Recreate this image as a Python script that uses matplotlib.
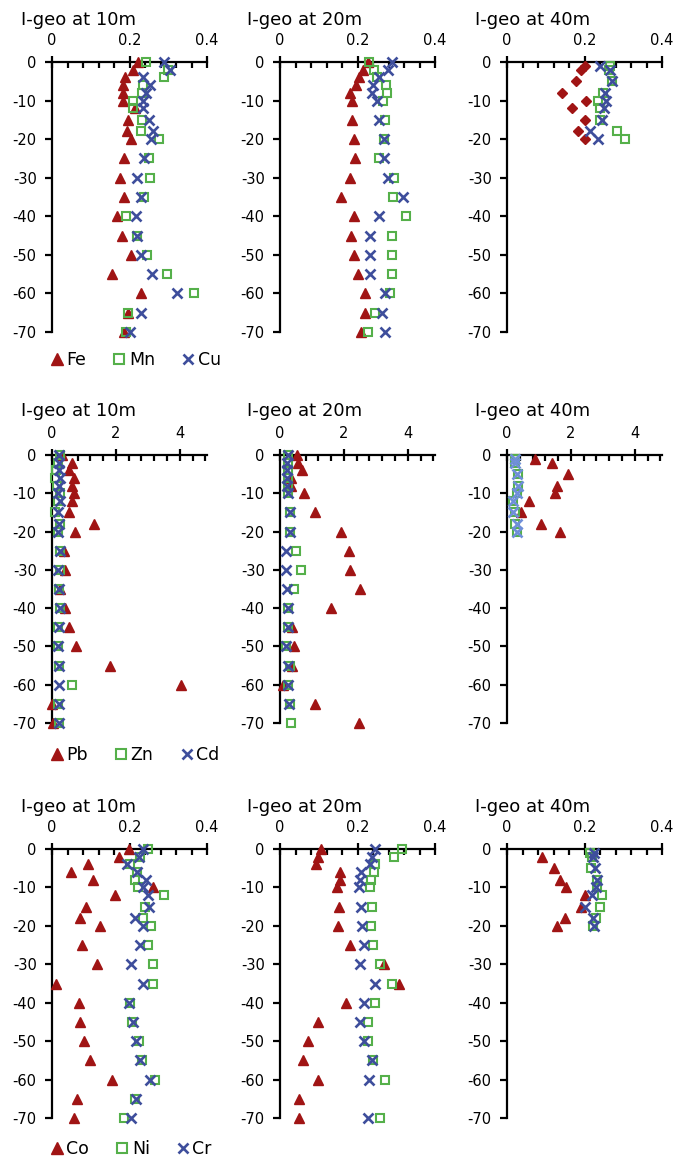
import numpy as np
import matplotlib
matplotlib.use("Agg")
import matplotlib.pyplot as plt
from matplotlib.ticker import MultipleLocator

plt.rcParams['font.family'] = ['DejaVu Sans']

nan = np.nan
# depths (m below surface)
depth_10m = [0, -2, -4, -6, -8, -10, -12, -15, -18, -20, -25, -30, -35, -40, -45, -50, -55, -60, -65, -70]
depth_20m = [0, -2, -4, -6, -8, -10, -15, -20, -25, -30, -35, -40, -45, -50, -55, -60, -65, -70]
depth_40m = [-1, -2, -5, -8, -10, -12, -15, -18, -20]

# Row 1: Fe, Mn, Cu
fe_10 = [0.223, 0.208, 0.188, 0.184, 0.182, 0.184, 0.214, 0.197, 0.193, 0.204, 0.187, 0.175, 0.186, 0.167, 0.18, 0.204, 0.156, 0.23, 0.195, 0.186]
mn_10 = [0.243, 0.30, 0.289, 0.236, 0.232, 0.21, 0.21, 0.232, 0.23, 0.275, 0.25, 0.253, 0.238, 0.191, 0.219, 0.246, 0.296, 0.367, 0.197, 0.191]
cu_10 = [0.288, 0.305, 0.236, 0.253, 0.242, 0.234, 0.234, 0.25, 0.26, 0.255, 0.238, 0.219, 0.23, 0.217, 0.219, 0.23, 0.257, 0.322, 0.229, 0.201]
fe_20 = [0.227, 0.213, 0.203, 0.197, 0.181, 0.186, 0.187, 0.19, 0.194, 0.18, 0.158, 0.19, 0.184, 0.19, 0.2, 0.219, 0.22, 0.21]
mn_20 = [0.229, 0.242, 0.25, 0.274, 0.276, 0.266, 0.272, 0.268, 0.255, 0.295, 0.291, 0.324, 0.289, 0.289, 0.289, 0.285, 0.246, 0.227]
cu_20 = [0.288, 0.278, 0.255, 0.239, 0.238, 0.25, 0.255, 0.268, 0.268, 0.278, 0.317, 0.255, 0.232, 0.232, 0.232, 0.27, 0.262, 0.272]
fe_40 = [0.2, 0.191, 0.178, 0.143, 0.203, 0.167, 0.2, 0.184, 0.2]
mn_40 = [0.266, 0.262, 0.27, 0.249, 0.236, 0.239, 0.24, 0.283, 0.305]
cu_40 = [0.24, 0.266, 0.272, 0.253, 0.256, 0.25, 0.245, 0.214, 0.236]

# Row 2: Pb, Zn, Cd
pb_10 = [0.3, 0.64, 0.52, 0.68, 0.64, 0.7, 0.64, 0.52, 1.32, 0.73, 0.36, 0.4, 0.26, 0.4, 0.52, 0.75, 1.8, 4.05, 0.0, 0.02]
zn_10 = [0.25, 0.2, 0.12, 0.08, 0.15, 0.26, 0.2, 0.08, 0.25, 0.2, 0.24, 0.25, 0.22, 0.25, 0.2, 0.2, 0.22, 0.64, 0.2, 0.23]
cd_10 = [0.22, 0.22, 0.22, 0.25, 0.22, 0.2, 0.25, 0.2, 0.22, 0.18, 0.25, 0.2, 0.22, 0.25, 0.22, 0.18, 0.22, 0.22, 0.22, 0.22]
pb_20 = [0.52, 0.57, 0.68, 0.35, 0.35, 0.75, 1.11, 1.92, 2.15, 2.18, 2.49, 1.61, 0.39, 0.45, 0.36, 0.1, 1.09, 2.47]
zn_20 = [0.25, 0.25, 0.25, 0.25, 0.25, 0.25, 0.3, 0.3, 0.49, 0.65, 0.45, 0.25, 0.25, 0.2, 0.3, 0.25, 0.3, 0.34]
cd_20 = [0.25, 0.22, 0.22, 0.22, 0.22, 0.25, 0.3, 0.3, 0.2, 0.2, 0.22, 0.25, 0.25, 0.2, 0.25, 0.25, 0.28, nan]
pb_40 = [0.89, 1.42, 1.91, 1.56, 1.49, 0.68, 0.45, 1.05, 1.67]
zn_40 = [0.25, 0.25, 0.35, 0.35, 0.3, 0.2, 0.25, 0.25, 0.3]
cd_40 = [0.25, 0.25, 0.3, 0.35, 0.3, 0.2, 0.2, 0.3, 0.3]

# Row 3: Co, Ni, Cr
co_10 = [0.199, 0.173, 0.092, 0.048, 0.106, 0.26, 0.162, 0.087, 0.073, 0.125, 0.078, 0.117, 0.01, 0.069, 0.073, 0.083, 0.098, 0.156, 0.065, 0.056]
ni_10 = [0.249, 0.227, 0.2, 0.219, 0.214, 0.223, 0.288, 0.24, 0.234, 0.255, 0.249, 0.26, 0.26, 0.201, 0.206, 0.225, 0.232, 0.266, 0.214, 0.186]
cr_10 = [0.236, 0.225, 0.193, 0.22, 0.242, 0.234, 0.247, 0.251, 0.213, 0.236, 0.227, 0.204, 0.234, 0.199, 0.21, 0.216, 0.227, 0.253, 0.216, 0.204]
co_20 = [0.106, 0.099, 0.092, 0.156, 0.156, 0.147, 0.153, 0.149, 0.181, 0.268, 0.308, 0.17, 0.099, 0.073, 0.059, 0.099, 0.049, 0.048]
ni_20 = [0.315, 0.295, 0.246, 0.242, 0.235, 0.231, 0.238, 0.235, 0.24, 0.259, 0.289, 0.244, 0.227, 0.227, 0.24, 0.27, nan, 0.259]
cr_20 = [0.246, 0.238, 0.233, 0.209, 0.207, 0.203, 0.209, 0.212, 0.216, 0.206, 0.244, 0.216, 0.206, 0.216, 0.238, 0.229, nan, 0.226]
co_40 = [nan, 0.09, 0.12, 0.137, 0.152, 0.2, 0.19, 0.15, 0.128]
ni_40 = [0.215, 0.22, 0.217, 0.232, 0.232, 0.245, 0.24, 0.23, 0.222]
cr_40 = [0.225, 0.222, 0.228, 0.232, 0.23, 0.22, 0.2, 0.222, 0.225]

titles = ["I-geo at 10m", "I-geo at 20m", "I-geo at 40m"]
row_elements = [["Fe", "Mn", "Cu"], ["Pb", "Zn", "Cd"], ["Co", "Ni", "Cr"]]
row_data = [
    [(depth_10m, fe_10, mn_10, cu_10), (depth_20m, fe_20, mn_20, cu_20), (depth_40m, fe_40, mn_40, cu_40)],
    [(depth_10m, pb_10, zn_10, cd_10), (depth_20m, pb_20, zn_20, cd_20), (depth_40m, pb_40, zn_40, cd_40)],
    [(depth_10m, co_10, ni_10, cr_10), (depth_20m, co_20, ni_20, cr_20), (depth_40m, co_40, ni_40, cr_40)],
]

W, H = 686, 1157
fig = plt.figure(figsize=(W / 100, H / 100), dpi=100)

RED = '#A01414'
GREEN = '#55B04A'
BLUE = '#3E4E9C'
LIGHTBLUE = '#6F8FD9'

# layout in pixels
row_top = [62, 455, 849]
row_bot = [332, 723, 1118]
col_left = [52, 280, 507]
ax_w = 155
title_base = [25, 416, 812]
title_x = [21, 247, 475]
legend_y = [360, 755, 1149]

row_xlim = [0.4, 4.85, 0.4]
row_major = [0.2, 2, 0.2]
row_minor = [0.04, 0.4, 0.04]
row_ticklabels = [["0", "0.2", "0.4"], ["0", "2", "4"], ["0", "0.2", "0.4"]]

for r in range(3):
    for c in range(3):
        left = col_left[c] / W
        bottom = 1 - row_bot[r] / H
        height = (row_bot[r] - row_top[r]) / H
        ax = fig.add_axes([left, bottom, ax_w / W, height])
        d, a, b, e = row_data[r][c]
        m1 = 'D' if (r == 0 and c == 2) else '^'
        ms1 = 5.3 if m1 == 'D' else 7.5
        xcol = LIGHTBLUE if (r == 1 and c == 2) else BLUE
        h1, = ax.plot(a, d, linestyle='none', marker=m1, ms=ms1, color=RED,
                      mec=RED, clip_on=False, zorder=3, label=row_elements[r][0])
        h2, = ax.plot(b, d, linestyle='none', marker='s', ms=6, mfc='none',
                      mec=GREEN, mew=1.5, clip_on=False, zorder=4, label=row_elements[r][1])
        h3, = ax.plot(e, d, linestyle='none', marker='x', ms=7, color=xcol,
                      mew=1.9, clip_on=False, zorder=5, label=row_elements[r][2])
        ax.set_xlim(0, row_xlim[r])
        ax.set_ylim(-70, 0)
        for s in ['right', 'bottom']:
            ax.spines[s].set_visible(False)
        for s in ['left', 'top']:
            ax.spines[s].set_linewidth(1.6)
            ax.spines[s].set_zorder(2)
        ax.xaxis.tick_top()
        maj = [row_major[r] * i for i in range(3)]
        ax.set_xticks(maj)
        ax.set_xticklabels(row_ticklabels[r])
        ax.xaxis.set_minor_locator(MultipleLocator(row_minor[r]))
        ax.set_yticks(list(range(0, -71, -10)))
        ax.set_yticklabels([str(v) for v in range(0, -71, -10)])
        ax.tick_params(axis='x', which='major', direction='inout', length=8,
                       width=1.6, pad=6, labelsize=10.5)
        ax.tick_params(axis='x', which='minor', direction='in', length=4, width=1.6)
        ax.tick_params(axis='y', which='major', direction='out', length=5,
                       width=1.6, pad=6, labelsize=10.5)
        ax.patch.set_alpha(0)
        fig.text(title_x[c] / W, 1 - title_base[r] / H, titles[c],
                 fontsize=13, va='baseline', ha='left')
        if c == 0:
            fig.legend(handles=[h1, h2, h3], loc='center left',
                       bbox_to_anchor=(50 / W, 1 - legend_y[r] / H),
                       bbox_transform=fig.transFigure, ncol=3, frameon=False,
                       fontsize=12.5, handlelength=0.8, handletextpad=0.15,
                       columnspacing=1.5, borderpad=0, borderaxespad=0,
                       markerscale=1.1)

fig.savefig("out.png", dpi=100)
